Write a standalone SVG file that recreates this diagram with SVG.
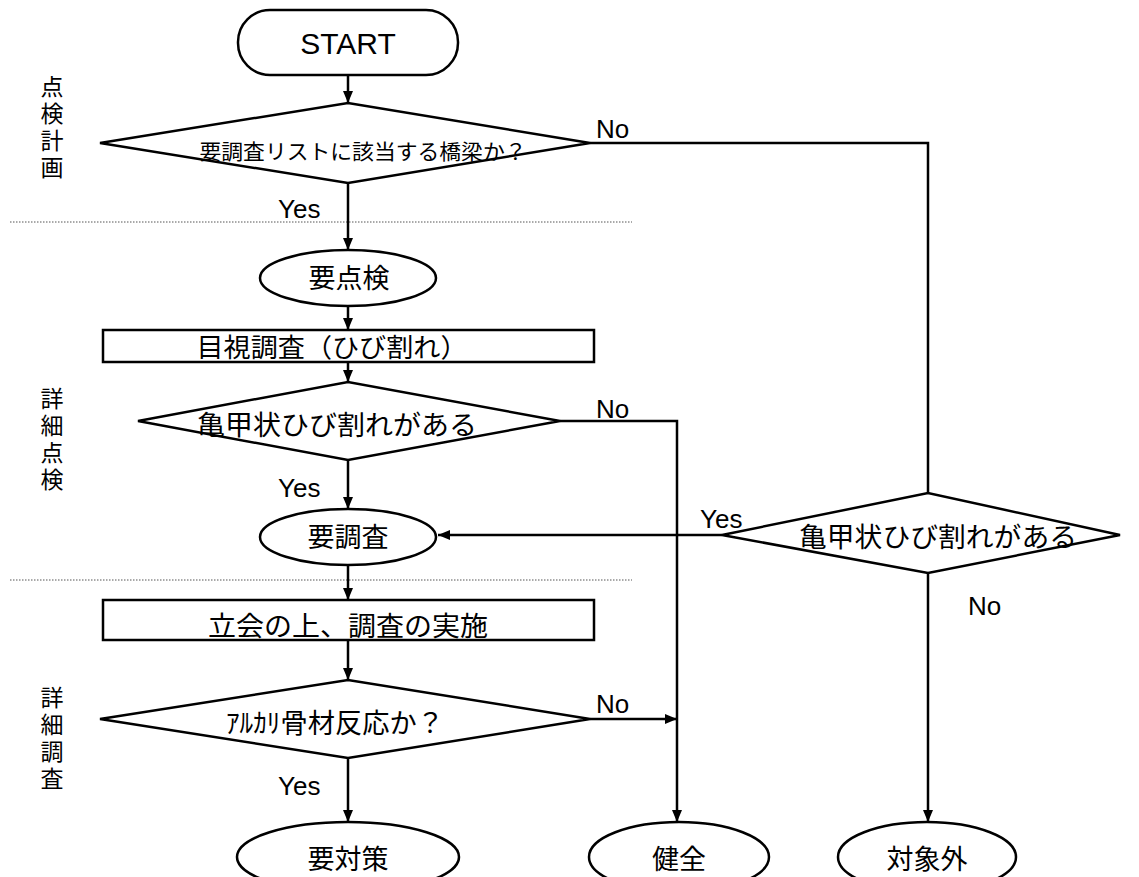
<svg xmlns="http://www.w3.org/2000/svg" width="1139" height="877" viewBox="0 0 1139 877">
<style>
.shape{fill:#fff;stroke:#000;stroke-width:2.5}
.jp{font-family:"Noto Sans CJK JP","Noto Sans",sans-serif;fill:#000;text-anchor:middle}
.vert{font-family:"Noto Sans CJK JP","Noto Sans",sans-serif;fill:#000;writing-mode:vertical-rl;font-size:23px;letter-spacing:4px}
.lat{font-family:"Liberation Sans","DejaVu Sans",sans-serif;fill:#000}
.conn{fill:none;stroke:#000;stroke-width:2.5}
.sep{stroke:#555;stroke-width:1;stroke-dasharray:1.5 1.5}
</style>
<defs>
<marker id="arr" markerUnits="userSpaceOnUse" markerWidth="12" markerHeight="10" refX="12" refY="5" orient="auto">
<path d="M0,0 L12,5 L0,10 z" fill="#000"/>
</marker>
</defs>
<rect width="1139" height="877" fill="#fff"/>
<g id="separators">
<line class="sep" x1="10" y1="222" x2="632" y2="222"/>
<line class="sep" x1="10" y1="580" x2="632" y2="580"/>
</g>
<g id="phase-labels">
<text class="vert" x="52" y="75">点検計画</text>
<text class="vert" x="52" y="387">詳細点検</text>
<text class="vert" x="52" y="686">詳細調査</text>
</g>
<g id="connectors">
<line class="conn" x1="348" y1="75" x2="348" y2="103" marker-end="url(#arr)"/>
<polyline class="conn" points="590,143 928,143 928,493"/>
<line class="conn" x1="348" y1="183" x2="348" y2="250" marker-end="url(#arr)"/>
<line class="conn" x1="348" y1="306" x2="348" y2="330" marker-end="url(#arr)"/>
<line class="conn" x1="348" y1="362" x2="348" y2="382" marker-end="url(#arr)"/>
<polyline class="conn" points="560,421 677,421 677,822" marker-end="url(#arr)"/>
<line class="conn" x1="348" y1="460" x2="348" y2="509" marker-end="url(#arr)"/>
<line class="conn" x1="722" y1="535" x2="438" y2="535" marker-end="url(#arr)"/>
<line class="conn" x1="928" y1="573" x2="928" y2="822" marker-end="url(#arr)"/>
<line class="conn" x1="348" y1="566" x2="348" y2="600" marker-end="url(#arr)"/>
<line class="conn" x1="348" y1="640" x2="348" y2="680" marker-end="url(#arr)"/>
<line class="conn" x1="590" y1="719" x2="677" y2="719" marker-end="url(#arr)"/>
<line class="conn" x1="348" y1="758" x2="348" y2="822" marker-end="url(#arr)"/>
</g>
<g id="edge-labels" class="lat" font-size="26">
<text x="596" y="138">No</text>
<text x="278" y="218">Yes</text>
<text x="596" y="418">No</text>
<text x="278" y="497">Yes</text>
<text x="700" y="528">Yes</text>
<text x="968" y="615">No</text>
<text x="596" y="713">No</text>
<text x="278" y="795">Yes</text>
</g>
<g id="start">
<rect class="shape" x="238" y="10" width="220" height="65" rx="32" ry="32"/>
<text class="lat" x="348" y="54" font-size="30" text-anchor="middle">START</text>
</g>
<g id="decision-list">
<polygon class="shape" points="100,143 348,103 590,143 348,183"/>
<text class="jp" x="363" y="159" font-size="21" textLength="327" lengthAdjust="spacingAndGlyphs">要調査リストに該当する橋梁か？</text>
</g>
<g id="need-inspection">
<ellipse class="shape" cx="348" cy="278" rx="88" ry="28"/>
<text class="jp" x="349" y="288" font-size="27">要点検</text>
</g>
<g id="visual-survey">
<rect class="shape" x="103" y="330" width="491" height="32"/>
<text class="jp" x="332" y="357" font-size="26" textLength="271" lengthAdjust="spacingAndGlyphs">目視調査（ひび割れ）</text>
</g>
<g id="decision-crack1">
<polygon class="shape" points="138,421 348,382 560,421 348,460"/>
<text class="jp" x="337" y="435" font-size="27" textLength="280" lengthAdjust="spacingAndGlyphs">亀甲状ひび割れがある</text>
</g>
<g id="need-survey">
<ellipse class="shape" cx="348" cy="537" rx="88" ry="28"/>
<text class="jp" x="348" y="547" font-size="27">要調査</text>
</g>
<g id="decision-crack2">
<polygon class="shape" points="722,535 928,493 1120,535 928,573"/>
<text class="jp" x="938" y="547" font-size="27" textLength="278" lengthAdjust="spacingAndGlyphs">亀甲状ひび割れがある</text>
</g>
<g id="joint-survey">
<rect class="shape" x="103" y="600" width="491" height="40"/>
<text class="jp" x="348" y="636" font-size="27" textLength="280" lengthAdjust="spacingAndGlyphs">立会の上、調査の実施</text>
</g>
<g id="decision-asr">
<polygon class="shape" points="100,719 348,680 590,719 348,758"/>
<text class="jp" x="335" y="733" font-size="27" textLength="218" lengthAdjust="spacingAndGlyphs">ｱﾙｶﾘ骨材反応か？</text>
</g>
<g id="countermeasure">
<ellipse class="shape" cx="348" cy="857" rx="111" ry="35"/>
<text class="jp" x="348" y="869" font-size="27">要対策</text>
</g>
<g id="sound">
<ellipse class="shape" cx="679" cy="857" rx="90" ry="35"/>
<text class="jp" x="679" y="869" font-size="27">健全</text>
</g>
<g id="out-of-scope">
<ellipse class="shape" cx="927" cy="857" rx="89" ry="35"/>
<text class="jp" x="927" y="869" font-size="27">対象外</text>
</g>
</svg>
